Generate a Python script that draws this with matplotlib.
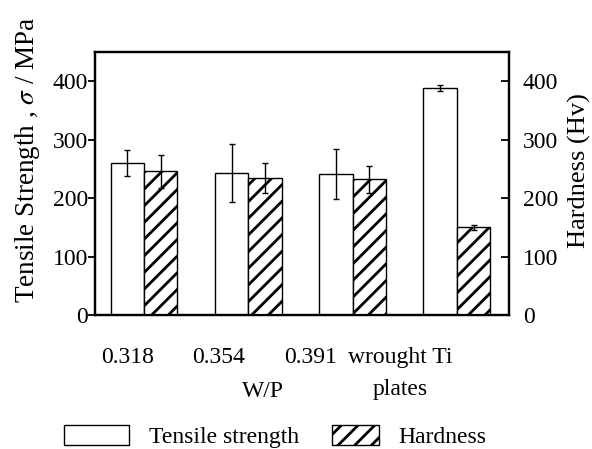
import numpy as np
import matplotlib.pyplot as plt
from matplotlib.patches import Patch

plt.rcParams['font.family'] = ['Liberation Serif', 'DejaVu Serif']
plt.rcParams['mathtext.fontset'] = 'stix'
plt.rcParams['hatch.linewidth'] = 2.0

# tensile strength / hardness for each W/P ratio and the wrought plates
groups = ['0.318', '0.354', '0.391', 'wrought Ti\nplates']
tensile = [260, 243, 241, 388]
tensile_err = [22, 50, 43, 5]
hardness = [246, 234, 232, 150]
hardness_err = [28, 26, 23, 4]
label_pos = [-0.16, 0.71, 1.60, 2.46]

x = np.arange(len(groups))
w = 0.32
fs = 17

fig = plt.figure(figsize=(5.92, 4.49), dpi=100)
ax = fig.add_axes([0.1605, 0.2984, 0.6993, 0.5857])
ax2 = ax.twinx()

ax.bar(x - w / 2, tensile, w, color='white', edgecolor='black', linewidth=1.0,
       yerr=tensile_err, capsize=2.5, error_kw=dict(elinewidth=1.0, capthick=1.0), zorder=2)
ax2.bar(x + w / 2, hardness, w, color='white', edgecolor='black', linewidth=1.0, hatch='//',
        yerr=hardness_err, capsize=2.5, error_kw=dict(elinewidth=1.0, capthick=1.0), zorder=2)

for a in (ax, ax2):
    a.set_ylim(0, 450)
    a.set_yticks([0, 100, 200, 300, 400])
    for s in a.spines.values():
        s.set_linewidth(1.6)
ax.set_xlim(-0.47, 3.5)
ax.tick_params(axis='y', direction='out', length=5, width=1.3, labelsize=fs, pad=0)
ax2.tick_params(axis='y', direction='in', length=6, width=1.3, labelsize=fs, pad=10)

ax.set_xticks(label_pos)
ax.set_xticklabels(groups, fontsize=fs, linespacing=1.7, va='top')
ax.tick_params(axis='x', length=0, pad=23)

ax.set_ylabel(r'Tensile Strength , $\sigma$ / MPa', fontsize=19.5)
ax.yaxis.set_label_coords(-0.128, 0.59)
ax2.set_ylabel('Hardness (Hv)', fontsize=19)
ax2.yaxis.set_label_coords(1.143, 0.55)
ax.set_xlabel('W/P', fontsize=fs)
ax.xaxis.set_label_coords(0.406, -0.25)

# two legend entries with different box widths
h1 = Patch(facecolor='white', edgecolor='black', linewidth=1.0)
h2 = Patch(facecolor='white', edgecolor='black', linewidth=1.0, hatch='//')
fig.legend([h1], ['Tensile strength'], loc='center left', bbox_to_anchor=(0.108, 0.027),
           frameon=False, fontsize=fs, handlelength=2.75, handleheight=0.9, handletextpad=0.85,
           borderpad=0, borderaxespad=0)
fig.legend([h2], ['Hardness'], loc='center left', bbox_to_anchor=(0.56, 0.027),
           frameon=False, fontsize=fs, handlelength=2.0, handleheight=0.9, handletextpad=0.85,
           borderpad=0, borderaxespad=0)

fig.savefig('out.png', dpi=100)
